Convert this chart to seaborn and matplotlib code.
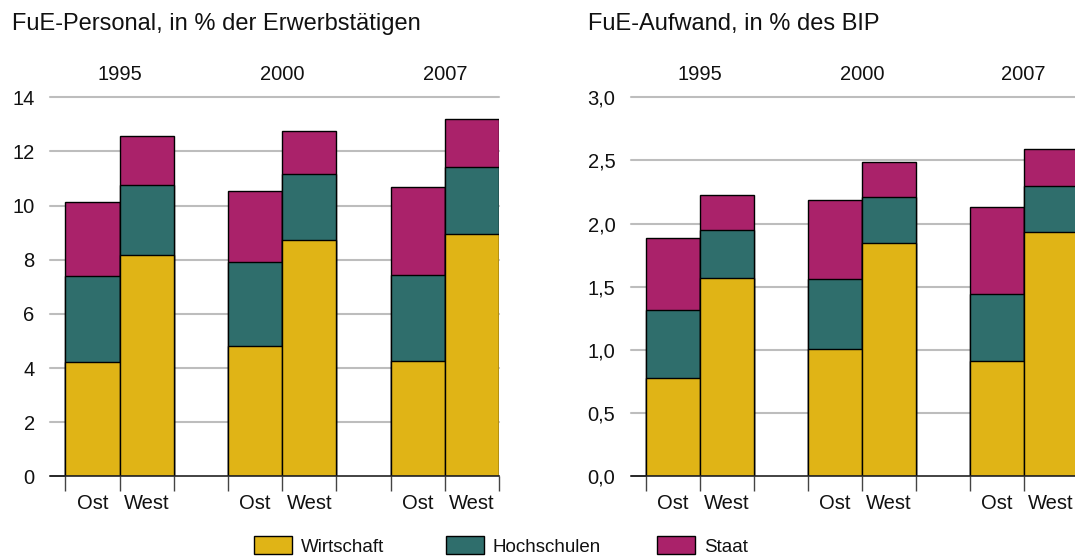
import numpy as np
import pandas as pd
import seaborn as sns
import matplotlib.pyplot as plt
from matplotlib.patches import Patch
from matplotlib.ticker import FuncFormatter
from matplotlib.transforms import blended_transform_factory

sns.set_theme(style='white')
plt.rcParams['font.family'] = ['Liberation Sans', 'DejaVu Sans']

years = ['1995', '2000', '2007']
regions = ['Ost', 'West']
categories = ['Wirtschaft', 'Hochschulen', 'Staat']
colors = ['#E0B416', '#2F6E6C', '#AA226A']

# order: Ost95, West95, Ost00, West00, Ost07, West07
personal_wirtschaft = [4.24, 8.18, 4.83, 8.72, 4.27, 8.95]
personal_hochschulen = [3.17, 2.58, 3.08, 2.45, 3.17, 2.49]
personal_staat = [2.71, 1.81, 2.64, 1.60, 3.26, 1.74]

aufwand_wirtschaft = [0.78, 1.57, 1.01, 1.85, 0.91, 1.93]
aufwand_hochschulen = [0.54, 0.38, 0.55, 0.36, 0.53, 0.37]
aufwand_staat = [0.565, 0.28, 0.63, 0.28, 0.69, 0.29]

FS = 14.5
W, H = 1075, 558


def draw_panel(ax, wirt, hoch, staat, ymax, step, fmt):
    pos = np.array([0, 1, 3, 4, 6, 7])
    df = pd.DataFrame({'pos': pos, 'w': wirt, 'h': hoch, 's': staat})
    df['wh'] = df.w + df.h
    df['whs'] = df.wh + df.s
    # stacked look: draw the running totals from the top down
    for col, c in zip(['whs', 'wh', 'w'], colors[::-1]):
        sns.barplot(data=df, x='pos', y=col, native_scale=True, color=c, saturation=1,
                    edgecolor='black', linewidth=1, errorbar=None, width=1, ax=ax, zorder=3)
    ax.set_xlim(-0.783, 7.5)
    ax.set_ylim(0, ymax)
    for s in ['left', 'right', 'top']:
        ax.spines[s].set_visible(False)
    ax.spines['bottom'].set_color('#222222')
    ax.spines['bottom'].set_linewidth(1.2)
    ax.spines['bottom'].set_zorder(4)
    yt = np.arange(0, ymax + step / 2, step)
    ax.set_yticks(yt)
    ax.yaxis.set_major_formatter(FuncFormatter(fmt))
    for y in yt[1:]:
        ax.axhline(y, color='#BDBDBD', lw=1.5, zorder=1, clip_on=False)
    ax.tick_params(axis='y', direction='in', length=11.3, width=1.4, color='#555555',
                   labelsize=FS, labelcolor='#111111', pad=11, left=True)
    edges = [-0.5, 0.5, 1.5, 2.5, 3.5, 4.5, 5.5, 6.5, 7.5]
    ax.set_xticks(edges)
    ax.set_xticklabels([])
    ax.tick_params(axis='x', which='major', direction='out', length=11, width=1,
                   color='#444444', bottom=True)
    ax.set_xticks(pos, minor=True)
    ax.set_xticklabels(regions * 3, minor=True)
    ax.tick_params(axis='x', which='minor', length=0, pad=12.5, labelsize=FS,
                   labelcolor='#111111')
    ax.set_xlabel('')
    ax.set_ylabel('')
    tr = blended_transform_factory(ax.transData, ax.transAxes)
    for x, yr in zip([0.5, 3.5, 6.5], years):
        ax.text(x, 1.059, yr, transform=tr, ha='center', va='center', fontsize=FS,
                color='#111111')


fig = plt.figure(figsize=(W / 100, H / 100), dpi=100)
ax1 = fig.add_axes([50 / W, 81.7 / H, 449 / W, 379 / H])
ax2 = fig.add_axes([630.7 / W, 81.7 / H, 447 / W, 379 / H])

draw_panel(ax1, personal_wirtschaft, personal_hochschulen, personal_staat, 14, 2,
           lambda v, p: f'{v:.0f}')
draw_panel(ax2, aufwand_wirtschaft, aufwand_hochschulen, aufwand_staat, 3.0, 0.5,
           lambda v, p: f'{v:.1f}'.replace('.', ','))

fig.text(11.5 / W, 1 - 24 / H, 'FuE-Personal, in % der Erwerbstätigen', ha='left',
         va='center', fontsize=17, color='#111111')
fig.text(588 / W, 1 - 24 / H, 'FuE-Aufwand, in % des BIP', ha='left',
         va='center', fontsize=17, color='#111111')

for x, lab, c in zip([254, 445.7, 657], categories, colors):
    fig.legend(handles=[Patch(facecolor=c, edgecolor='black', linewidth=1)], labels=[lab],
               loc='center left', bbox_to_anchor=(x / W, 1 - 546 / H), frameon=False,
               borderpad=0, borderaxespad=0, handlelength=2.05, handleheight=1.1,
               handletextpad=0.45, fontsize=13.5, labelcolor='#111111')

fig.savefig('out.png', dpi=100)
